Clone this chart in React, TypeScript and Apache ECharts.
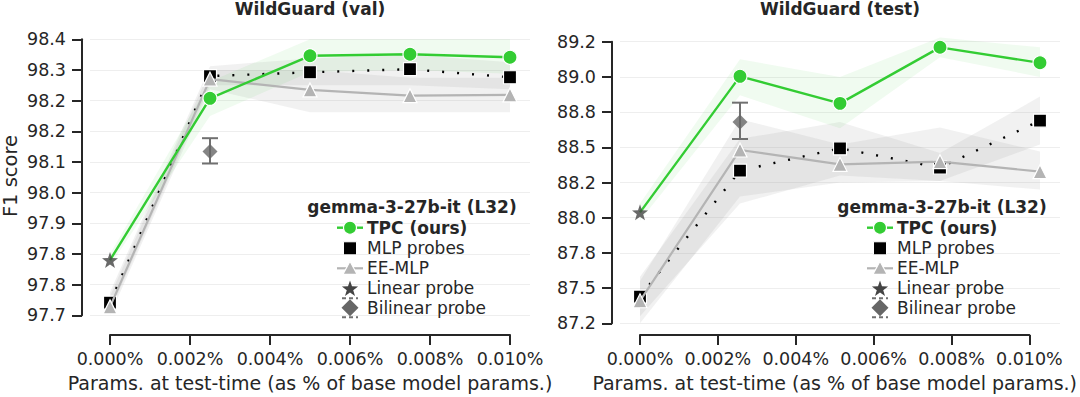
import { useEffect, useRef } from "react";
import * as echarts from "echarts";

// ---------- data ----------
const xs = [0, 0.0025, 0.005, 0.0075, 0.01];
const xTicks = [0, 0.002, 0.004, 0.006, 0.008, 0.01];

// WildGuard (val)
const valYTickLabels = ["97.7", "97.8", "97.8", "97.9", "98.0", "98.1", "98.2", "98.2", "98.3", "98.4"];
const valTPC = [97.824, 98.246, 98.357, 98.361, 98.353];
const valTPCLo = [97.81, 98.2, 98.315, 98.32, 98.31];
const valTPCHi = [97.84, 98.29, 98.4, 98.4, 98.4];
const valMLP = [97.713, 98.304, 98.314, 98.322, 98.301];
const valMLPLo = [97.69, 98.28, 98.28, 98.28, 98.27];
const valMLPHi = [97.74, 98.33, 98.35, 98.36, 98.34];
const valEE = [97.702, 98.296, 98.268, 98.253, 98.255];
const valEELo = [97.68, 98.27, 98.21, 98.21, 98.21];
const valEEHi = [97.73, 98.32, 98.32, 98.3, 98.3];
const valLinear = [0, 97.824];
const valBilinear = [0.0025, 98.107];
const valBilinearErr = [98.076, 98.142];

// WildGuard (test)
const testYTickLabels = ["87.2", "87.5", "87.8", "88.0", "88.2", "88.5", "88.8", "89.0", "89.2"];
const testTPC = [88.038, 89.004, 88.812, 89.21, 89.1];
const testTPCLo = [87.98, 88.87, 88.635, 89.14, 89.0];
const testTPCHi = [88.1, 89.125, 89.0, 89.28, 89.21];
const testMLP = [87.44, 88.334, 88.493, 88.355, 88.689];
const testMLPLo = [87.3, 88.1, 88.3, 88.26, 88.52];
const testMLPHi = [87.58, 88.56, 88.68, 88.46, 88.86];
const testEE = [87.41, 88.481, 88.379, 88.398, 88.327];
const testEELo = [87.25, 88.15, 88.25, 88.26, 88.2];
const testEEHi = [87.55, 88.7, 88.52, 88.64, 88.47];
const testLinear = [0, 88.038];
const testBilinear = [0.0025, 88.68];
const testBilinearErr = [88.559, 88.817];

// ---------- styles ----------
const FONT = "DejaVu Sans";
const TXT = "#262626";
const GREEN = "#33cc33";
const GRAY_LINE = "#b4b4b4";
const TICK_FS = 17.5;
const LEG_FS = 17;
const LABEL_FS = 19;
const STAR = "path://M0,-10 L2.35,-3.24 L9.51,-3.09 L3.8,1.24 L5.88,8.09 L0,4 L-5.88,8.09 L-3.8,1.24 L-9.51,-3.09 L-2.35,-3.24 Z";

const zip = (a: number[], b: number[]) => a.map((v, i) => [v, b[i]]);

function band(axis: number, lo: number[], hi: number[], color: string, z: number) {
  return {
    type: "custom",
    xAxisIndex: axis,
    yAxisIndex: axis,
    silent: true,
    z,
    data: [[xs[0], lo[0]]],
    renderItem: (_p: any, api: any) => {
      const pts: number[][] = [];
      xs.forEach((x, i) => pts.push(api.coord([x, hi[i]])));
      for (let i = xs.length - 1; i >= 0; i--) pts.push(api.coord([xs[i], lo[i]]));
      return { type: "polygon", shape: { points: pts }, style: { fill: color } };
    },
  };
}

function errBar(axis: number, pt: number[], err: number[]) {
  return {
    type: "custom",
    xAxisIndex: axis,
    yAxisIndex: axis,
    silent: true,
    z: 6,
    data: [[pt[0], err[0], err[1]]],
    renderItem: (_p: any, api: any) => {
      const x = api.value(0);
      const a = api.coord([x, api.value(1)]);
      const b = api.coord([x, api.value(2)]);
      const st = { stroke: "#707070", lineWidth: 2 };
      return {
        type: "group",
        children: [
          { type: "line", shape: { x1: a[0], y1: a[1], x2: b[0], y2: b[1] }, style: st },
          { type: "line", shape: { x1: a[0] - 8, y1: a[1], x2: a[0] + 8, y2: a[1] }, style: st },
          { type: "line", shape: { x1: b[0] - 8, y1: b[1], x2: b[0] + 8, y2: b[1] }, style: st },
        ],
      };
    },
  };
}

function panelSeries(
  axis: number,
  tpc: number[], tpcLo: number[], tpcHi: number[],
  mlp: number[], mlpLo: number[], mlpHi: number[],
  ee: number[], eeLo: number[], eeHi: number[],
  lin: number[], bil: number[], bilErr: number[]
) {
  return [
    band(axis, eeLo, eeHi, "rgba(140,140,140,0.12)", 1),
    band(axis, mlpLo, mlpHi, "rgba(140,140,140,0.12)", 1),
    band(axis, tpcLo, tpcHi, "rgba(60,200,60,0.08)", 1),
    {
      type: "line",
      xAxisIndex: axis,
      yAxisIndex: axis,
      clip: false,
      z: 3,
      data: zip(xs, mlp),
      symbol: "rect",
      symbolSize: 13,
      itemStyle: { color: "#000", borderColor: "#fff", borderWidth: 1.2 },
      lineStyle: { color: "#000", width: 2.4, type: [2, 13] },
    },
    {
      type: "line",
      xAxisIndex: axis,
      yAxisIndex: axis,
      clip: false,
      z: 4,
      data: zip(xs, ee),
      symbol: "triangle",
      symbolSize: 14,
      itemStyle: { color: GRAY_LINE, borderColor: "#fff", borderWidth: 1.2 },
      lineStyle: { color: GRAY_LINE, width: 2.2 },
    },
    {
      type: "line",
      xAxisIndex: axis,
      yAxisIndex: axis,
      clip: false,
      z: 5,
      data: zip(xs, tpc).map((d, i) => (i === 0 ? { value: d, symbol: "none" } : { value: d })),
      symbol: "circle",
      symbolSize: 14,
      itemStyle: { color: GREEN, borderColor: "#fff", borderWidth: 1.2 },
      lineStyle: { color: GREEN, width: 2.4 },
    },
    {
      type: "scatter",
      xAxisIndex: axis,
      yAxisIndex: axis,
      clip: false,
      z: 7,
      data: [lin],
      symbol: STAR,
      symbolSize: 16,
      itemStyle: { color: "#444444" },
    },
    errBar(axis, bil, bilErr),
    {
      type: "scatter",
      xAxisIndex: axis,
      yAxisIndex: axis,
      clip: false,
      z: 7,
      data: [bil],
      symbol: "diamond",
      symbolSize: 15,
      itemStyle: { color: "#666666" },
    },
  ];
}

function legend(dx: number) {
  const mx = 350 + dx;
  const tx = 367 + dx;
  const rows = [227.7, 248.3, 268.3, 288.3, 307.7];
  const names = ["TPC (ours)", "MLP probes", "EE-MLP", "Linear probe", "Bilinear probe"];
  const els: any[] = [
    {
      type: "text",
      x: 412 + dx,
      y: 206.7,
      z: 50,
      style: { text: "gemma-3-27b-it (L32)", font: `bold ${LEG_FS}px "${FONT}"`, fill: TXT, align: "center", verticalAlign: "middle" },
    },
  ];
  names.forEach((n, i) => {
    els.push({
      type: "text",
      x: tx,
      y: rows[i],
      z: 50,
      style: { text: n, font: `${i === 0 ? "bold " : ""}${LEG_FS}px "${FONT}"`, fill: TXT, align: "left", verticalAlign: "middle" },
    });
  });
  // TPC
  els.push({ type: "line", z: 50, shape: { x1: mx - 13, y1: rows[0], x2: mx + 13, y2: rows[0] }, style: { stroke: GREEN, lineWidth: 2.4 } });
  els.push({ type: "circle", z: 51, shape: { cx: mx, cy: rows[0], r: 6.5 }, style: { fill: GREEN, stroke: "#fff", lineWidth: 1.2 } });
  // MLP
  els.push({ type: "rect", z: 50, shape: { x: mx - 6.5, y: rows[1] - 6.5, width: 13, height: 13 }, style: { fill: "#000", stroke: "#fff", lineWidth: 1 } });
  // EE
  els.push({ type: "line", z: 50, shape: { x1: mx - 13, y1: rows[2], x2: mx + 13, y2: rows[2] }, style: { stroke: GRAY_LINE, lineWidth: 2.2 } });
  els.push({ type: "polygon", z: 51, shape: { points: [[mx, rows[2] - 7], [mx + 7, rows[2] + 6], [mx - 7, rows[2] + 6]] }, style: { fill: GRAY_LINE, stroke: "#fff", lineWidth: 1.2 } });
  // star
  const sp: number[][] = [];
  for (let k = 0; k < 10; k++) {
    const r = k % 2 === 0 ? 8.5 : 3.4;
    const a = -Math.PI / 2 + (k * Math.PI) / 5;
    sp.push([mx + r * Math.cos(a), rows[3] + 0.8 + r * Math.sin(a)]);
  }
  els.push({ type: "polygon", z: 50, shape: { points: sp }, style: { fill: "#444444" } });
  // bilinear
  els.push({ type: "line", z: 50, shape: { x1: mx - 8, y1: rows[4] - 9.5, x2: mx + 8, y2: rows[4] - 9.5 }, style: { stroke: "#707070", lineWidth: 2, lineDash: [4, 3] } });
  els.push({ type: "line", z: 50, shape: { x1: mx - 8, y1: rows[4] + 9.5, x2: mx + 8, y2: rows[4] + 9.5 }, style: { stroke: "#707070", lineWidth: 2, lineDash: [4, 3] } });
  els.push({ type: "polygon", z: 51, shape: { points: [[mx, rows[4] - 8.5], [mx + 8.5, rows[4]], [mx, rows[4] + 8.5], [mx - 8.5, rows[4]]] }, style: { fill: "#666666" } });
  return els;
}

const axisLineStyle = { onZero: false, lineStyle: { color: TXT, width: 2 } };
const axisTick = { show: true, length: 10, lineStyle: { color: TXT, width: 2 } };
const labelStyle = { color: TXT, fontSize: TICK_FS, fontFamily: FONT };

function yAxisData(gridIndex: number, ticks: string[], min: number, step: number) {
  return {
    type: "value",
    gridIndex,
    min,
    max: min + step * (ticks.length - 1),
    interval: step,
    offset: 8,
    axisLine: { show: true, ...axisLineStyle },
    axisTick,
    axisLabel: {
      ...labelStyle,
      margin: 16,
      formatter: (v: number) => ticks[Math.round((v - min) / step)] ?? "",
    },
    splitLine: { show: true, lineStyle: { color: "#eeeeee", width: 1 } },
  };
}

function xAxisTicks(gridIndex: number) {
  return {
    type: "value",
    gridIndex,
    min: xTicks[0],
    max: xTicks[xTicks.length - 1],
    interval: xTicks[1] - xTicks[0],
    axisLine: { show: true, ...axisLineStyle },
    axisTick,
    axisLabel: { ...labelStyle, margin: 15, formatter: (v: number) => v.toFixed(3) + "%" },
    splitLine: { show: false },
    name: "Params. at test-time (as % of base model params.)",
    nameLocation: "middle",
    nameGap: 37,
    nameTextStyle: { color: TXT, fontSize: LABEL_FS, fontFamily: FONT },
  };
}

const hiddenX = (gridIndex: number) => ({
  type: "value",
  gridIndex,
  min: -0.0005,
  max: 0.0105,
  show: false,
  axisLine: { onZero: false },
  splitLine: { show: false },
});
const hiddenY = (gridIndex: number) => ({ type: "value", gridIndex, min: 0, max: 1, show: false, axisLine: { onZero: false } });

export default function App() {
  const ref = useRef<HTMLDivElement>(null);
  useEffect(() => {
    if (!ref.current) return;
    const chart = echarts.init(ref.current, undefined, { renderer: "svg" });
    chart.setOption({
      animation: false,
      backgroundColor: "#ffffff",
      textStyle: { fontFamily: FONT },
      grid: [
        { left: 90, top: 39.3, width: 440, height: 276 },
        { left: 110, top: 39.3, width: 400, height: 299 },
        { left: 620, top: 41.7, width: 440, height: 281.6 },
        { left: 640, top: 41.7, width: 400, height: 296.6 },
      ],
      xAxis: [hiddenX(0), xAxisTicks(1), hiddenX(2), xAxisTicks(3)],
      yAxis: [
        yAxisData(0, valYTickLabels, 97.68, 0.08),
        hiddenY(1),
        yAxisData(2, testYTickLabels, 87.25, 0.25),
        hiddenY(3),
      ],
      series: [
        ...panelSeries(0, valTPC, valTPCLo, valTPCHi, valMLP, valMLPLo, valMLPHi, valEE, valEELo, valEEHi, valLinear, valBilinear, valBilinearErr),
        ...panelSeries(2, testTPC, testTPCLo, testTPCHi, testMLP, testMLPLo, testMLPHi, testEE, testEELo, testEEHi, testLinear, testBilinear, testBilinearErr),
      ],
      graphic: [
        { type: "text", x: 310, y: 9, style: { text: "WildGuard (val)", font: `bold 17px "${FONT}"`, fill: TXT, align: "center", verticalAlign: "middle" } },
        { type: "text", x: 840, y: 9, style: { text: "WildGuard (test)", font: `bold 17px "${FONT}"`, fill: TXT, align: "center", verticalAlign: "middle" } },
        { type: "text", x: 10, y: 176, rotation: Math.PI / 2, style: { text: "F1 score", font: `19.5px "${FONT}"`, fill: TXT, align: "center", verticalAlign: "middle" } },
        ...legend(0),
        ...legend(530),
      ],
    });
    return () => chart.dispose();
  }, []);
  return <div ref={ref} style={{ width: 1080, height: 397, position: "absolute", left: 0, top: 0 }} />;
}
